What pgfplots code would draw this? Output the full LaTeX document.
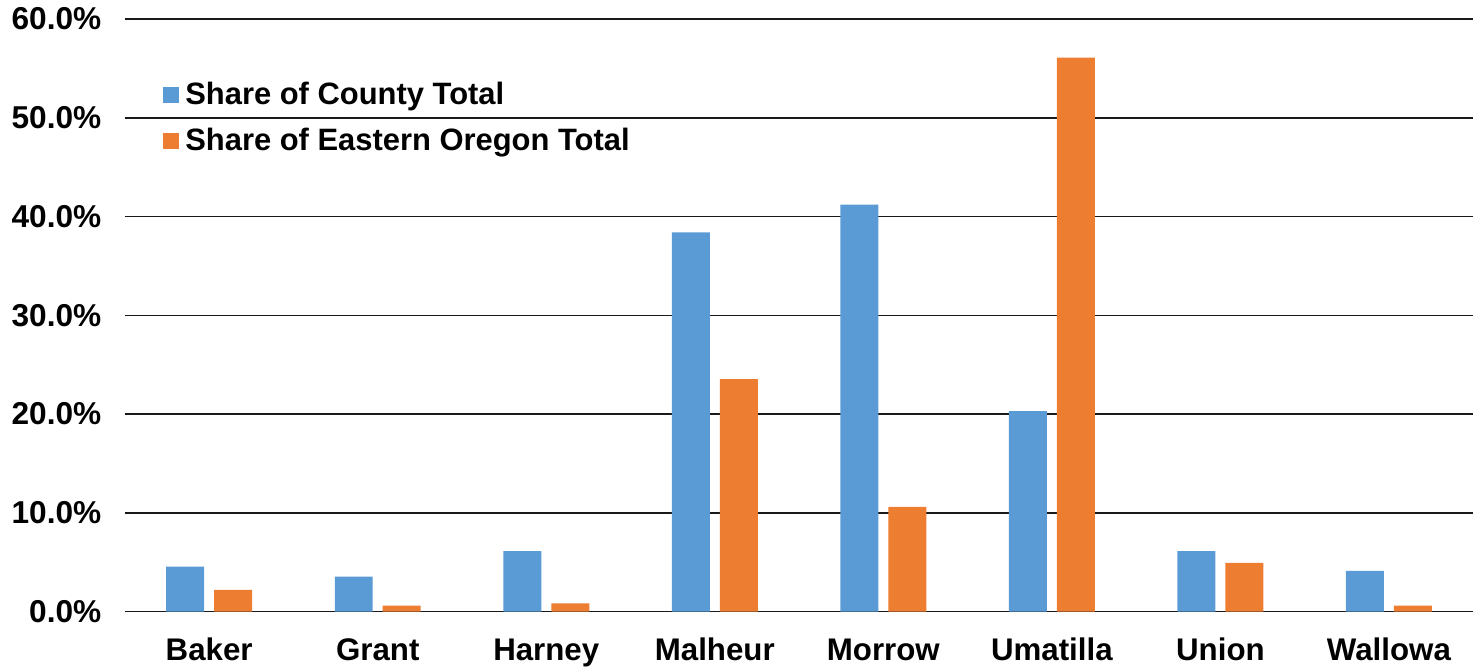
\documentclass[border=0pt]{standalone}
\usepackage{fontspec}
\setmainfont{Liberation Sans}
\usepackage{pgfplots}
\pgfplotsset{compat=1.18}
\definecolor{cblue}{HTML}{5B9BD5}
\definecolor{corange}{HTML}{ED7D31}
\begin{document}
\begin{tikzpicture}
\begin{axis}[
  name=ax,
  scale only axis,
  width=134.9mm, height=59.3mm,
  xmin=-0.5, xmax=7.5,
  ymin=0, ymax=60,
  ytick={0,10,20,30,40,50,60},
  xtick={0,1,2,3,4,5,6,7},
  xticklabels={Baker,Grant,Harney,Malheur,Morrow,Umatilla,Union,Wallowa},
  ymajorgrids,
  grid style={black!90, line width=0.45pt},
  axis line style={draw=none},
  major tick length=0pt,
  ybar=1mm, bar width=3.8mm,
  /pgf/number format/assume math mode=true,
  yticklabel={\pgfmathprintnumber[fixed,fixed zerofill,precision=1]{\tick}\%},
  yticklabel style={font=\fontsize{9}{10}\selectfont\bfseries, inner sep=0pt, xshift=-2.3mm},
  xticklabel style={font=\fontsize{8.9}{10}\selectfont\bfseries, inner sep=0pt,
    text height=2.3mm, text depth=0.6mm, yshift=-2.5mm},
  legend style={draw=none, fill=none, at={(0.028,0.905)}, anchor=north west,
    font=\fontsize{8.8}{10}\selectfont\bfseries, row sep=0.65mm,
    inner sep=0pt, nodes={inner sep=0.6mm}},
  legend cell align=left,
  legend image code/.code={\fill[#1] (0mm,-0.75mm) rectangle (1.6mm,0.85mm);},
]
\addplot[fill=cblue, draw=none] coordinates {(0,4.55) (1,3.54) (2,6.14) (3,38.4) (4,41.2) (5,20.3) (6,6.14) (7,4.12)};
\addplot[fill=corange, draw=none] coordinates {(0,2.2) (1,0.6) (2,0.85) (3,23.55) (4,10.6) (5,56.1) (6,4.93) (7,0.6)};
\legend{Share of County Total, Share of Eastern Oregon Total}
\end{axis}
\path ([xshift=-12.5mm,yshift=1.9mm]ax.north west) ([yshift=-5.5mm]ax.south west);
\end{tikzpicture}
\end{document}
